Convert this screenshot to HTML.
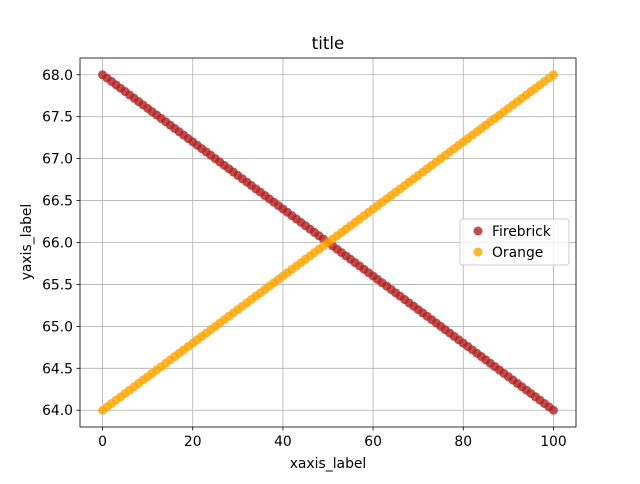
<!DOCTYPE html>
<html><head><meta charset="utf-8"><style>
body{margin:0;background:#fff;font-family:"DejaVu Sans","Liberation Sans",sans-serif}
</style></head><body>
<svg id="c" width="640" height="480" xmlns="http://www.w3.org/2000/svg" font-family="DejaVu Sans, Liberation Sans, sans-serif">
<rect width="640" height="480" fill="#fff"/>
<g id="grid"></g><g id="pts"></g><g id="axes"></g>
<text x="328" y="49" font-size="16.7" text-anchor="middle">title</text>
<text x="328" y="468" font-size="13.9" text-anchor="middle">xaxis_label</text>
<text x="31" y="242" font-size="13.9" text-anchor="middle" transform="rotate(-90 31 242)">yaxis_label</text>
<g>
<rect x="460" y="219" width="109" height="46" rx="3" fill="#fff" fill-opacity="0.8" stroke="#ccc"/>
<g><circle cx="478" cy="231" r="4.5" fill="#b22222" fill-opacity="0.8"/><text x="492" y="236" font-size="13.9">Firebrick</text></g>
<g><circle cx="478" cy="252" r="4.5" fill="#ffa500" fill-opacity="0.8"/><text x="492" y="257" font-size="13.9">Orange</text></g>
</g>
</svg>
<script>
const firebrick=[68,67.96,67.92,67.88,67.84,67.8,67.76,67.72,67.68,67.64,67.6,67.56,67.52,67.48,67.44,67.4,67.36,67.32,67.28,67.24,67.2,67.16,67.12,67.08,67.04,67,66.96,66.92,66.88,66.84,66.8,66.76,66.72,66.68,66.64,66.6,66.56,66.52,66.48,66.44,66.4,66.36,66.32,66.28,66.24,66.2,66.16,66.12,66.08,66.04,66,65.96,65.92,65.88,65.84,65.8,65.76,65.72,65.68,65.64,65.6,65.56,65.52,65.48,65.44,65.4,65.36,65.32,65.28,65.24,65.2,65.16,65.12,65.08,65.04,65,64.96,64.92,64.88,64.84,64.8,64.76,64.72,64.68,64.64,64.6,64.56,64.52,64.48,64.44,64.4,64.36,64.32,64.28,64.24,64.2,64.16,64.12,64.08,64.04,64];
const orange=[64,64.04,64.08,64.12,64.16,64.2,64.24,64.28,64.32,64.36,64.4,64.44,64.48,64.52,64.56,64.6,64.64,64.68,64.72,64.76,64.8,64.84,64.88,64.92,64.96,65,65.04,65.08,65.12,65.16,65.2,65.24,65.28,65.32,65.36,65.4,65.44,65.48,65.52,65.56,65.6,65.64,65.68,65.72,65.76,65.8,65.84,65.88,65.92,65.96,66,66.04,66.08,66.12,66.16,66.2,66.24,66.28,66.32,66.36,66.4,66.44,66.48,66.52,66.56,66.6,66.64,66.68,66.72,66.76,66.8,66.84,66.88,66.92,66.96,67,67.04,67.08,67.12,67.16,67.2,67.24,67.28,67.32,67.36,67.4,67.44,67.48,67.52,67.56,67.6,67.64,67.68,67.72,67.76,67.8,67.84,67.88,67.92,67.96,68];
const xTicks=[0,20,40,60,80,100];
const yTicks=[64.0,64.5,65.0,65.5,66.0,66.5,67.0,67.5,68.0];
const L=80,R=576,T=58,B=427;
const xmin=-5,xmax=105,ymin=63.8,ymax=68.2;
const sx=v=>L+(v-xmin)/(xmax-xmin)*(R-L);
const sy=v=>B-(v-ymin)/(ymax-ymin)*(B-T);
const NS='http://www.w3.org/2000/svg';
function mk(tag,attrs,parent){const e=document.createElementNS(NS,tag);for(const k in attrs)e.setAttribute(k,attrs[k]);parent.appendChild(e);return e;}
const grid=document.getElementById('grid'),pts=document.getElementById('pts'),axes=document.getElementById('axes');
xTicks.forEach(t=>{const x=sx(t);
 const g=mk('line',{x1:x,x2:x,y1:T,y2:B,stroke:'#b0b0b0','stroke-width':0.8},grid);
 
 
 mk('line',{x1:x,x2:x,y1:B,y2:B+3.5,stroke:'#000','stroke-width':0.8},axes);
 const tx=mk('text',{x:x,y:B+19,'font-size':13.9,'text-anchor':'middle'},axes);tx.textContent=t;
 
 
});
yTicks.forEach(t=>{const y=sy(t);
 const g=mk('line',{x1:L,x2:R,y1:y,y2:y,stroke:'#b0b0b0','stroke-width':0.8},grid);
 
 
 mk('line',{x1:L-3.5,x2:L,y1:y,y2:y,stroke:'#000','stroke-width':0.8},axes);
 const tx=mk('text',{x:L-7,y:y+5,'font-size':13.9,'text-anchor':'end'},axes);tx.textContent=t.toFixed(1);
 
 
});
const fr=mk('rect',{x:L,y:T,width:R-L,height:B-T,fill:'none',stroke:'#000','stroke-width':0.8},axes);


firebrick.forEach((v,i)=>{const c=mk('circle',{cx:sx(i),cy:sy(v),r:4.5,fill:'#b22222','fill-opacity':0.8},pts);
 
 });
orange.forEach((v,i)=>{const c=mk('circle',{cx:sx(i),cy:sy(v),r:4.5,fill:'#ffa500','fill-opacity':0.8},pts);
 
 });
</script>
</body></html>
